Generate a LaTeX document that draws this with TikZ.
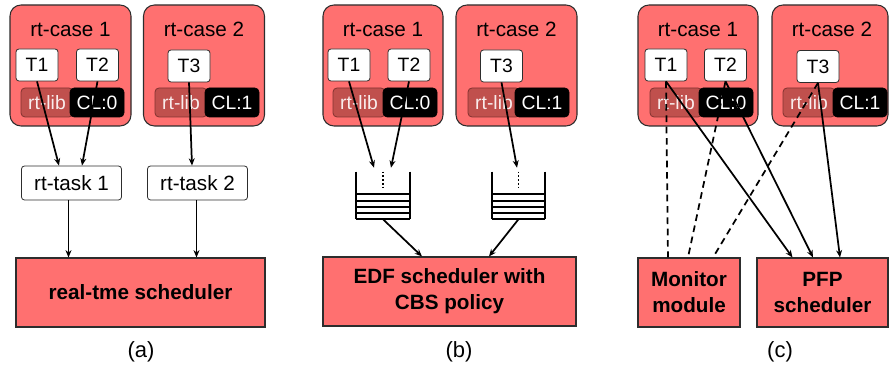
\documentclass[tikz,border=0pt]{standalone}
\usepackage{fontspec}
\setmainfont{Liberation Sans}
\usetikzlibrary{arrows.meta,positioning,calc}
\newlength\px
\setlength\px{0.75pt}
\definecolor{casered}{RGB}{255,112,112}
\definecolor{libred}{RGB}{192,80,77}
\definecolor{libedge}{RGB}{130,50,48}
\definecolor{edgegray}{RGB}{45,45,45}
\tikzset{%
	casebox/.style={draw=edgegray, fill=casered, line width=0.8pt, rounded corners=11\px,
		minimum width=121\px, minimum height=121\px, inner sep=0pt},
	casetitle/.style={inner sep=0pt, font=\fontsize{15.5}{18}\selectfont},
	taskbox/.style={draw=edgegray, fill=white, line width=0.6pt, rounded corners=3\px,
		minimum width=42\px, minimum height=32\px, inner sep=0pt, font=\fontsize{14.5}{17}\selectfont},
	libbox/.style={draw=libedge, fill=libred, text=white!90!libred, line width=0.6pt, rounded corners=4\px,
		minimum width=52\px, minimum height=29\px, inner sep=0pt, font=\fontsize{14.5}{17}\selectfont},
	clbox/.style={draw=black, fill=black, text=white, rounded corners=4\px,
		minimum width=54\px, minimum height=29\px, inner sep=0pt, font=\fontsize{14.5}{17}\selectfont},
	rtbox/.style={draw=edgegray, fill=white, line width=0.6pt, rounded corners=3\px,
		minimum width=100\px, minimum height=34\px, inner sep=0pt, font=\fontsize{15.5}{18}\selectfont},
	schedbox/.style={draw=edgegray, fill=casered, line width=0.8pt, minimum height=69\px,
		inner sep=0pt, align=center, font=\bfseries\fontsize{15.5}{19.5}\selectfont},
	qbox/.style={minimum width=54\px, minimum height=47\px, inner sep=0pt},
	qwall/.style={line width=1.3pt},
	qline/.style={line width=1.5pt},
	qdots/.style={line width=1.2pt, dash pattern=on 1.2pt off 1.6pt},
	arr/.style={->, >={Stealth[length=5.5pt,width=4.5pt]}, line width=1.3pt},
	watch/.style={line width=1.3pt, dash pattern=on 5pt off 3.5pt},
	caption/.style={inner sep=0pt, font=\fontsize{16.5}{19}\selectfont}
}
\begin{document}
\begin{tikzpicture}[x=0.75pt,y=-0.75pt]
	\useasboundingbox (0,0) rectangle (890,370);
	% (a)
	\node[casebox] (caseA1) at (70.5,65.5) {};
	\node[casetitle] (titleA1) at (70.5,29) {rt-case 1};
	\node[casebox] (caseA2) at (204,65.5) {};
	\node[casetitle] (titleA2) at (204,29) {rt-case 2};
	\node[taskbox] (T1a) at (37,65) {T1};
	\node[taskbox] (T2a) at (97.5,65) {T2};
	\node[taskbox] (T3a) at (189,66) {T3};
	\node[libbox] (libA1) at (47,102.5) {rt-lib};
	\node[clbox] (clA1) at (97,102.5) {CL:0};
	\node[libbox] (libA2) at (181,102.5) {rt-lib};
	\node[clbox] (clA2) at (232,102.5) {CL:1};
	\node[rtbox] (taskA1) at (71.5,183) {rt-task 1};
	\node[rtbox] (taskA2) at (197.5,183) {rt-task 2};
	\node[schedbox, minimum width=249\px] (schedA) at (140.5,292.5) {real-tme scheduler};
	\node[caption] (capA) at (141,352) {(a)};
	\draw[arr] (T1a.south) -- ([xshift=-12.5\px]taskA1.north);
	\draw[arr] (T2a.south) -- ([xshift=10.5\px]taskA1.north);
	\draw[arr] (T3a.south) -- ([xshift=-5.5\px]taskA2.north);
	\draw[arr] ([xshift=-3\px]taskA1.south) -- ([xshift=-3\px]taskA1.south |- schedA.north);
	\draw[arr] ([xshift=-1\px]taskA2.south) -- ([xshift=-1\px]taskA2.south |- schedA.north);
	
	% (b)
	\node[casebox, minimum width=120\px] (caseB1) at (383,65.5) {};
	\node[casetitle] (titleB1) at (383,29) {rt-case 1};
	\node[casebox] (caseB2) at (516.5,65.5) {};
	\node[casetitle] (titleB2) at (516.5,29) {rt-case 2};
	\node[taskbox] (T1b) at (349,65) {T1};
	\node[taskbox] (T2b) at (409,65) {T2};
	\node[taskbox] (T3b) at (501.5,66) {T3};
	\node[libbox] (libB1) at (359,102.5) {rt-lib};
	\node[clbox] (clB1) at (410,102.5) {CL:0};
	\node[libbox] (libB2) at (494,102.5) {rt-lib};
	\node[clbox] (clB2) at (542,102.5) {CL:1};
	\node[qbox] (q1) at (383,195.5) {};
	\node[qbox, minimum width=53\px] (q2) at (518.5,195.5) {};
	\foreach \q in {q1,q2}{
		\draw[qwall] (\q.north west) -- (\q.south west);
		\draw[qwall] (\q.north east) -- (\q.south east);
		\foreach \d in {0,6.25,12.5,18.75,25}
			\draw[qline] ([yshift=\d\px]\q.south west) -- ([yshift=\d\px]\q.south east);
		\draw[qdots] (\q.north) -- ++(0,17);
	}
	\node[schedbox, minimum width=253\px] (schedB) at (449.5,291.5) {EDF scheduler with\\CBS policy};
	\node[caption] (capB) at (459,352) {(b)};
	\draw[arr] (T1b.south) -- ([xshift=-9\px,yshift=4\px]q1.north);
	\draw[arr] (T2b.south) -- ([xshift=8\px,yshift=4\px]q1.north);
	\draw[arr] (T3b.south) -- ([xshift=-1.5\px,yshift=4\px]q2.north);
	\draw[arr] (q1.south) -- ([xshift=-27.5\px]schedB.north);
	\draw[arr] (q2.south) -- ([xshift=39.5\px]schedB.north);
	
	% (c)
	\node[casebox, minimum width=120\px] (caseC1) at (698,65.5) {};
	\node[casetitle] (titleC1) at (698,29) {rt-case 1};
	\node[casebox, minimum width=116\px] (caseC2) at (830,65.5) {};
	\node[casetitle] (titleC2) at (832,29) {rt-case 2};
	\node[taskbox] (T1c) at (666,65) {T1};
	\node[taskbox] (T2c) at (725.5,65) {T2};
	\node[taskbox] (T3c) at (818,66.5) {T3};
	\node[libbox] (libC1) at (676,102.5) {rt-lib};
	\node[clbox] (clC1) at (726,102.5) {CL:0};
	\node[libbox] (libC2) at (809,102.5) {rt-lib};
	\node[clbox] (clC2) at (860,102.5) {CL:1};
	\node[schedbox, minimum width=102\px] (monitor) at (689,292.5) {Monitor\\module};
	\node[schedbox, minimum width=131\px] (pfp) at (822.5,292.5) {PFP\\scheduler};
	\node[caption] (capC) at (780,352) {(c)};
	\draw[watch] (T1c.south) -- ([xshift=-21\px]monitor.north);
	\draw[watch] (T2c.south) -- ([xshift=-1\px]monitor.north);
	\draw[watch] (T3c.south) -- ([xshift=24\px]monitor.north);
	\draw[arr] (T1c.south) -- ([xshift=-30\px]pfp.north);
	\draw[arr] (T2c.south) -- ([xshift=-9.5\px]pfp.north);
	\draw[arr] (T3c.south) -- ([xshift=17.5\px]pfp.north);
\end{tikzpicture}
\end{document}
